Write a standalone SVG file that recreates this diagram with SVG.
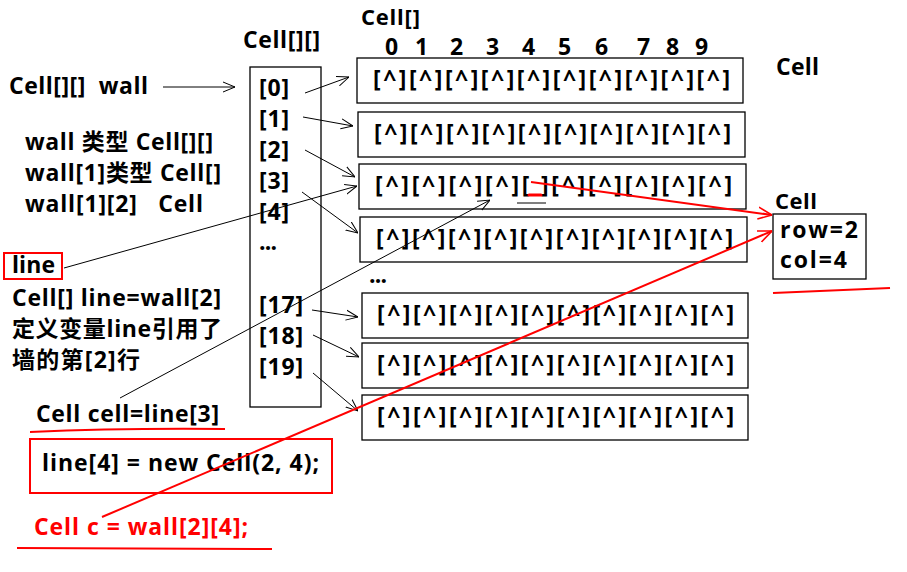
<svg xmlns="http://www.w3.org/2000/svg" width="907" height="572" viewBox="0 0 907 572">
<defs>
<style>
text{font-family:"Open Sans","Noto Sans CJK SC","Liberation Sans",sans-serif;font-weight:bold;font-size:23px;fill:#000;white-space:pre}
.r{fill:#f00}
.box{fill:#fff;stroke:#000;stroke-width:1.3}
.rbox{fill:none;stroke:#f00;stroke-width:2}
.c{stroke:#000;stroke-width:1;fill:none}
.rc{stroke:#f00;stroke-width:2;fill:none}
</style>
<marker id="ab" viewBox="0 0 12 12" refX="12" refY="6" markerWidth="12" markerHeight="12" orient="auto" markerUnits="userSpaceOnUse"><path d="M0,1 L12,6 L0,11" fill="none" stroke="#000" stroke-width="1"/></marker>
<marker id="ar" viewBox="0 0 14 14" refX="14" refY="7" markerWidth="14" markerHeight="14" orient="auto" markerUnits="userSpaceOnUse"><path d="M0,1 L14,7 L0,13" fill="none" stroke="#f00" stroke-width="1.6"/></marker>
</defs>
<rect width="907" height="572" fill="#fff"/>

<g id="labels">
<text x="361" y="25" textLength="59" style="font-size:22px">Cell[]</text>
<text x="243" y="48" textLength="77">Cell[][]</text>
<g style="font-size:21px">
<text x="385" y="55">0</text><text x="415" y="55">1</text><text x="450" y="55">2</text><text x="486" y="55">3</text><text x="522" y="55">4</text><text x="558" y="55">5</text><text x="595" y="55">6</text><text x="637" y="55">7</text><text x="666" y="55">8</text><text x="695" y="55">9</text>
</g>
<text x="776" y="75" textLength="43">Cell</text>
</g>

<g id="outer-array">
<rect class="box" x="250" y="67" width="71" height="340"/>
<text x="259" y="96" textLength="30">[0]</text>
<text x="259" y="127" textLength="30">[1]</text>
<text x="259" y="158" textLength="30">[2]</text>
<text x="259" y="189" textLength="30">[3]</text>
<text x="259" y="220" textLength="30">[4]</text>
<text x="259" y="250" textLength="18">...</text>
<text x="259" y="313" textLength="44">[17]</text>
<text x="259" y="344" textLength="44">[18]</text>
<text x="259" y="375" textLength="44">[19]</text>
</g>

<g id="row0"><rect class="box" x="357" y="58" width="386" height="45"/><text x="373" y="87" textLength="357">[^][^][^][^][^][^][^][^][^][^]</text></g>
<g id="row1"><rect class="box" x="358" y="112" width="387" height="45"/><text x="374" y="141" textLength="357">[^][^][^][^][^][^][^][^][^][^]</text></g>
<g id="row2"><rect class="box" x="359" y="164" width="387" height="45"/><text x="375" y="193" textLength="357">[^][^][^][^][ ][^][^][^][^][^]</text>
<line x1="517" y1="203" x2="546" y2="203" stroke="#000" stroke-width="1"/>
<line x1="529" y1="195" x2="541" y2="195" stroke="#f00" stroke-width="3" stroke-linecap="round"/></g>
<g id="row3"><rect class="box" x="360" y="217" width="387" height="45"/><text x="376" y="246" textLength="357">[^][^][^][^][^][^][^][^][^][^]</text></g>
<text x="369" y="283" textLength="18">...</text>
<g id="row17"><rect class="box" x="362" y="293" width="386" height="45"/><text x="377" y="322" textLength="357">[^][^][^][^][^][^][^][^][^][^]</text></g>
<g id="row18"><rect class="box" x="362" y="343" width="386" height="45"/><text x="377" y="372" textLength="357">[^][^][^][^][^][^][^][^][^][^]</text></g>
<g id="row19"><rect class="box" x="362" y="395" width="386" height="45"/><text x="377" y="424" textLength="357">[^][^][^][^][^][^][^][^][^][^]</text></g>

<g id="cell-obj">
<text x="775" y="209" textLength="42" style="font-size:22px">Cell</text>
<rect class="box" x="773" y="214" width="93" height="65"/>
<text x="780" y="238" textLength="78">row=2</text>
<text x="780" y="268" textLength="67">col=4</text>
</g>

<g id="notes">
<text x="9" y="94" textLength="139">Cell[][]  wall</text>
<text x="25" y="150" textLength="188">wall 类型 Cell[][]</text>
<text x="25" y="181" textLength="196">wall[1]类型 Cell[]</text>
<text x="25" y="212" textLength="178">wall[1][2]   Cell</text>
<rect class="rbox" x="4" y="253" width="58" height="26"/>
<text x="12" y="273" textLength="43">line</text>
<text x="12" y="306" textLength="209">Cell[] line=wall[2]</text>
<text x="12" y="337" textLength="210">定义变量line引用了</text>
<text x="12" y="368" textLength="128">墙的第[2]行</text>
<text x="36" y="422" textLength="183">Cell cell=line[3]</text>
<rect class="rbox" x="30" y="439" width="302" height="54"/>
<text x="42" y="471" textLength="277">line[4] = new Cell(2, 4);</text>
<text class="r" x="34" y="535" textLength="214">Cell c = wall[2][4];</text>
</g>

<g id="connectors">
<line class="c" x1="163" y1="87" x2="235" y2="87" marker-end="url(#ab)"/>
<line class="c" x1="305" y1="93" x2="349" y2="77" marker-end="url(#ab)"/>
<line class="c" x1="303" y1="117" x2="353" y2="126" marker-end="url(#ab)"/>
<line class="c" x1="305" y1="150" x2="355" y2="177" marker-end="url(#ab)"/>
<line class="c" x1="302" y1="192" x2="358" y2="233" marker-end="url(#ab)"/>
<line class="c" x1="312" y1="310" x2="358" y2="317" marker-end="url(#ab)"/>
<line class="c" x1="313" y1="335" x2="359" y2="357" marker-end="url(#ab)"/>
<line class="c" x1="313" y1="373" x2="358" y2="411" marker-end="url(#ab)"/>
<line class="c" x1="64" y1="268" x2="357" y2="186" marker-end="url(#ab)"/>
<line class="c" x1="120" y1="398" x2="490" y2="200" marker-end="url(#ab)"/>
<line class="rc" x1="531" y1="182" x2="772" y2="215" marker-end="url(#ar)"/>
<line class="rc" x1="102" y1="517" x2="772" y2="231" marker-end="url(#ar)"/>
<path class="rc" d="M30,432 Q120,428 225,429"/>
<path class="rc" d="M17,548 L272,549"/>
<path class="rc" d="M773,293 L890,288"/>
</g>
</svg>
